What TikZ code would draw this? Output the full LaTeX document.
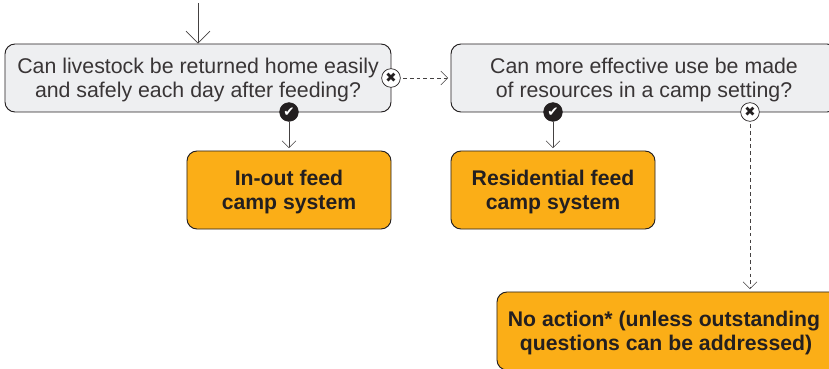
\documentclass[tikz,border=0pt]{standalone}
\usepackage{fontspec}
\usepackage{amssymb}
\setmainfont{Liberation Sans}
\newfontfamily\markfont{DejaVu Sans}
\usetikzlibrary{arrows.meta}
\definecolor{inkdark}{HTML}{231F20}
\definecolor{boxgrey}{HTML}{EEEFF1}
\definecolor{boxorange}{HTML}{FBAE17}
\tikzset{
  every picture/.style={x=0.03cm,y=-0.03cm},
  question/.style={draw=inkdark,fill=boxgrey,rounded corners=0.3cm,line width=0.8pt,minimum width=11.58cm,minimum height=2.04cm,align=center,text depth=0pt,text=inkdark!90,font=\fontsize{18.2}{20.5}\selectfont},
  outcome/.style={draw=inkdark,fill=boxorange,rounded corners=0.3cm,line width=0.8pt,minimum height=2.34cm,align=center,text depth=0pt,text=inkdark,font=\fontsize{18.1}{20.5}\selectfont\bfseries},
  yes/.style={circle,draw=inkdark,fill=inkdark,text=white,inner sep=0pt,minimum size=0.56cm,line width=0.6pt,font=\markfont\fontsize{11.5}{12}\selectfont},
  no/.style={circle,draw=inkdark,fill=white,text=inkdark,inner sep=0pt,minimum size=0.56cm,line width=0.6pt,font=\markfont\fontsize{11.5}{12}\selectfont},
  flow/.style={draw=inkdark!85,line width=0.7pt,-{Straight Barb[length=0.21cm,width=0.42cm,line width=0.5pt]}},
  noflow/.style={flow,dash pattern=on 3.2pt off 2.6pt},
}
\begin{document}
\begin{tikzpicture}

      \clip (0,0) rectangle (829,369);

      \coordinate (start) at (198,3);
      \node[question] (q1) at (198,78){Can livestock be returned home easily\\and safely each day after feeding?};
      \node[question] (q2) at (644,78){Can more effective use be made\\of resources in a camp setting?};
      \node[outcome,minimum width=6.12cm] (r1) at (289,190){In-out feed\\camp system};
      \node[outcome,minimum width=6.12cm] (r2) at (553,190){Residential feed\\camp system};
      \node[outcome,minimum width=10.44cm] (r3) at (671,331){No action* (unless outstanding\hspace*{0.42cm}\\questions can be addressed)\hspace*{0.3cm}};

      \node[yes] (y1) at (289,112){✔};
      \node[yes] (y2) at (553,112){✔};
      \node[no] (n1) at (391,78){✖};
      \node[no] (n2) at (750,112){✖};

      \draw[flow,-{Straight Barb[length=0.36cm,width=0.72cm,line width=0.5pt]}](start)--(q1.north);
      \draw[flow,shorten >=2pt](y1)--(r1);
      \draw[flow,shorten >=2pt](y2)--(r2);
      \draw[noflow,shorten >=2pt,shorten <=2pt](n1)--(q2);
      \draw[noflow,shorten >=2pt,shorten <=2pt](n2)--(n2|-r3.north);
    \end{tikzpicture}
\end{document}
